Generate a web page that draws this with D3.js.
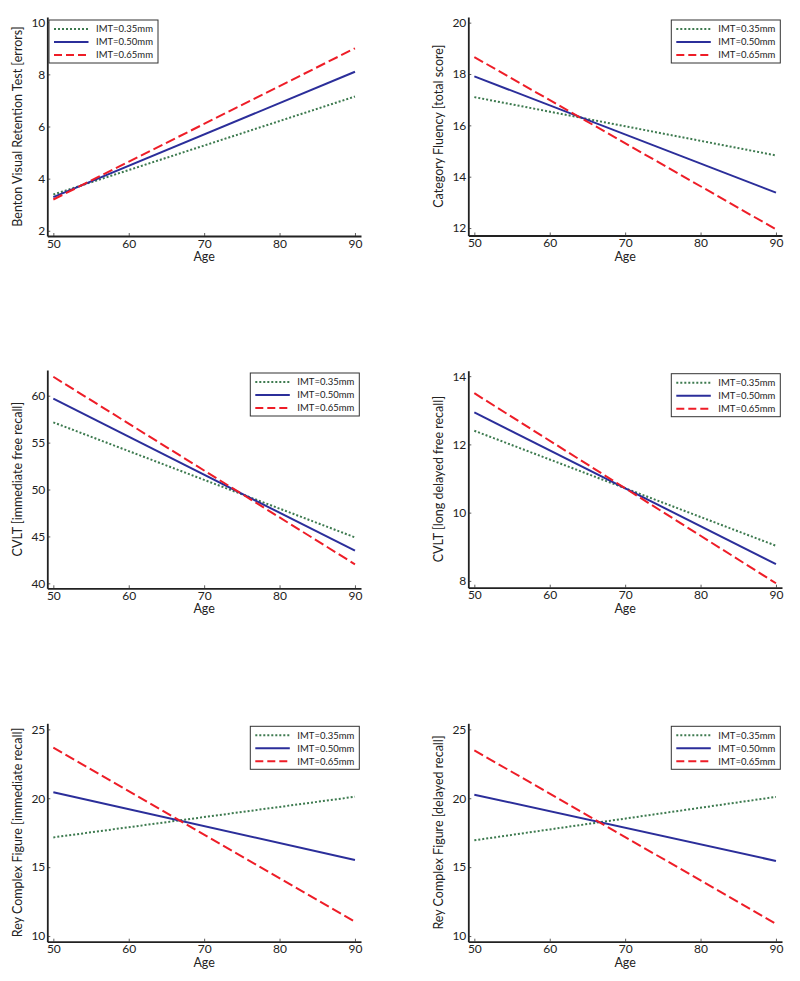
<!DOCTYPE html>
<html>
<head>
<meta charset="utf-8">
<script src="https://cdn.jsdelivr.net/npm/d3@7"></script>
<style>
  body { margin: 0; background: #fff; }
  svg { display: block; }
  text { font-family: Lato, "Open Sans", sans-serif; fill: #222; }
</style>
</head>
<body>
<div id="chart"></div>
<script>
// ---- data ----
const ages = [50, 90];
const seriesNames = ["IMT=0.35mm", "IMT=0.50mm", "IMT=0.65mm"];
const xTicks = [50, 60, 70, 80, 90];

const bentonValues   = [[3.39, 7.15], [3.29, 8.10], [3.20, 9.00]];
const fluencyValues  = [[17.10, 14.83], [17.91, 13.38], [18.66, 11.95]];
const cvltImmValues  = [[57.16, 44.90], [59.68, 43.48], [62.02, 42.03]];
const cvltLongValues = [[12.40, 9.03], [12.94, 8.49], [13.50, 7.93]];
const reyImmValues   = [[17.16, 20.11], [20.43, 15.52], [23.67, 11.04]];
const reyDelValues   = [[16.95, 20.10], [20.26, 15.45], [23.48, 10.89]];

const bentonTicks   = [2, 4, 6, 8, 10];
const fluencyTicks  = [12, 14, 16, 18, 20];
const cvltImmTicks  = [40, 45, 50, 55, 60];
const cvltLongTicks = [8, 10, 12, 14];
const reyTicks      = [10, 15, 20, 25];

const yLabels = [
  "Benton Visual Retention Test [errors]",
  "Category Fluency [total score]",
  "CVLT [immediate free recall]",
  "CVLT [long delayed free recall]",
  "Rey Complex Figure [immediate recall]",
  "Rey Complex Figure [delayed recall]"
];

// ---- layout ----
const W = 800, H = 981;
const colors = ["#3d7a4f", "#2b2e9a", "#ee1d27"];
const dashes = ["2,2", null, "10,4"];
const legendDashes = ["2,2", null, "8,4"];

const panels = [
  { values: bentonValues,   ticks: bentonTicks,   ydom: [1.8, 10.2],   col: 0, yr: [236, 17],     legend: "left" },
  { values: fluencyValues,  ticks: fluencyTicks,  ydom: [11.71, 20.22], col: 1, yr: [235.5, 17],   legend: "right" },
  { values: cvltImmValues,  ticks: cvltImmTicks,  ydom: [39.47, 62.74], col: 0, yr: [588.3, 370],  legend: "right" },
  { values: cvltLongValues, ticks: cvltLongTicks, ydom: [7.8, 14.16],   col: 1, yr: [587.7, 370.7], legend: "right" },
  { values: reyImmValues,   ticks: reyTicks,      ydom: [9.59, 25.44],  col: 0, yr: [941.7, 723.3], legend: "right" },
  { values: reyDelValues,   ticks: reyTicks,      ydom: [9.59, 25.44],  col: 1, yr: [941.7, 723.3], legend: "right" }
];
const colX = [[47.3, 361], [468.3, 782]];

const svg = d3.select("#chart").append("svg").attr("width", W).attr("height", H);

panels.forEach((p, i) => {
  const x = d3.scaleLinear().domain([49.2, 90.8]).range(colX[p.col]);
  const y = d3.scaleLinear().domain(p.ydom).range(p.yr);
  const g = svg.append("g");

  // axes
  const xa = g.append("g").attr("transform", `translate(0,${p.yr[0]})`)
    .call(d3.axisBottom(x).tickValues(xTicks).tickFormat(d3.format("d"))
      .tickSizeInner(-3).tickSizeOuter(0).tickPadding(3));
  const ya = g.append("g").attr("transform", `translate(${colX[p.col][0]},0)`)
    .call(d3.axisLeft(y).tickValues(p.ticks).tickFormat(d3.format("d"))
      .tickSizeInner(-3).tickSizeOuter(0).tickPadding(2));
  [xa, ya].forEach(a => {
    a.select(".domain").attr("stroke", "#222").attr("stroke-width", 1.8);
    a.selectAll(".tick line").attr("stroke", "#333").attr("stroke-width", 0.8);
    a.selectAll(".tick text").attr("font-size", 12).attr("font-family", "Lato, sans-serif").attr("fill", "#222");
  });

  // axis labels
  g.append("text")
    .attr("x", (colX[p.col][0] + colX[p.col][1]) / 2)
    .attr("y", p.yr[0] + 25)
    .attr("text-anchor", "middle").attr("font-size", 12.5)
    .text("Age");
  const cy = (p.yr[0] + p.yr[1]) / 2;
  const lx = p.col === 0 ? 21.5 : 443;
  g.append("text")
    .attr("transform", `translate(${lx},${cy}) rotate(-90)`)
    .attr("text-anchor", "middle").attr("font-size", 12.5)
    .text(yLabels[i]);

  // lines
  const line = d3.line().x((d, k) => x(ages[k])).y(d => y(d));
  p.values.forEach((vals, s) => {
    g.append("path").datum(vals)
      .attr("d", line)
      .attr("fill", "none")
      .attr("stroke", colors[s])
      .attr("stroke-width", 2)
      .attr("stroke-dasharray", dashes[s]);
  });

  // legend
  const lw = 109, lh = 43;
  const lx0 = p.legend === "left" ? colX[p.col][0] + 1.7 : colX[p.col][1] - 110.7;
  const ly0 = p.yr[1] + 3;
  const lg = g.append("g").attr("transform", `translate(${lx0},${ly0})`);
  lg.append("rect").attr("width", lw).attr("height", lh)
    .attr("fill", "#fff").attr("stroke", "#333").attr("stroke-width", 1);
  seriesNames.forEach((name, s) => {
    const ry = 9 + s * 13;
    lg.append("line").attr("x1", 5).attr("x2", 39.5).attr("y1", ry).attr("y2", ry)
      .attr("stroke", colors[s]).attr("stroke-width", 2)
      .attr("stroke-dasharray", legendDashes[s]);
    lg.append("text").attr("x", 47).attr("y", ry + 3.3)
      .attr("font-size", 9.5).text(name);
  });
});
</script>
</body>
</html>
